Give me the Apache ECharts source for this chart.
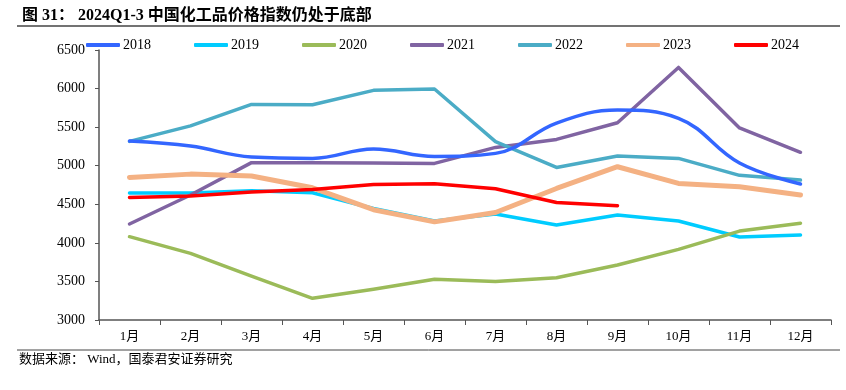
<!DOCTYPE html>
<html><head><meta charset="utf-8">
<script src="https://cdn.jsdelivr.net/npm/echarts@6/dist/echarts.min.js"></script>
<style>html,body{margin:0;padding:0;background:#fff}#c{width:846px;height:390px}</style>
</head><body><div id="c"></div>
<script>
var months = ['1月','2月','3月','4月','5月','6月','7月','8月','9月','10月','11月','12月'];
var years = ['2018','2019','2020','2021','2022','2023','2024'];
var v2018 = [5320, 5255, 5113, 5095, 5217, 5120, 5160, 5553, 5722, 5615, 5035, 4763];
var v2019 = [4646, 4646, 4675, 4650, 4445, 4285, 4374, 4231, 4361, 4283, 4076, 4101];
var v2020 = [4080, 3864, 3570, 3281, 3398, 3527, 3500, 3548, 3713, 3916, 4153, 4253];
var v2021 = [4244, 4620, 5040, 5040, 5035, 5030, 5237, 5341, 5557, 6274, 5490, 5174];
var v2022 = [5315, 5516, 5795, 5790, 5977, 5995, 5312, 4978, 5125, 5095, 4875, 4814];
var v2023 = [4848, 4891, 4866, 4714, 4430, 4272, 4393, 4705, 4987, 4771, 4727, 4620];
var v2024 = [4589, 4606, 4658, 4693, 4757, 4766, 4701, 4524, 4481];
var colors = ['#3366FF', '#00CCFF', '#9BBB59', '#8064A2', '#4BACC6', '#F4B183', '#FF0000'];
var widths = [3.5, 3.5, 3.5, 3.5, 3.5, 5, 3.5];
var data = [v2018, v2019, v2020, v2021, v2022, v2023, v2024];
var serif = '"Liberation Serif", "Times New Roman", "Noto Sans CJK SC", serif';

var series = years.map(function (y, i) {
  return {
    name: y, type: 'line', data: data[i], smooth: i === 0 ? 0.4 : false,
    symbol: 'none', z: i === 0 ? 3 : 2,
    lineStyle: { color: colors[i], width: widths[i], cap: 'round', join: 'round' },
    itemStyle: { color: colors[i] }
  };
});

var chart = echarts.init(document.getElementById('c'));
chart.setOption({
  animation: false,
  backgroundColor: '#fff',
  title: {
    text: '图 31： 2024Q1-3 中国化工品价格指数仍处于底部',
    left: 17, top: 3,
    textStyle: { fontFamily: serif, fontWeight: 'bold', fontSize: 16, color: '#000' }
  },
  graphic: [
    { type: 'line', shape: { x1: 17, y1: 26, x2: 840, y2: 26 }, style: { stroke: '#444', lineWidth: 1.5 } },
    { type: 'line', shape: { x1: 17, y1: 350, x2: 840, y2: 350 }, style: { stroke: '#444', lineWidth: 1 } },
    { type: 'text', left: 19, top: 353, style: { text: '数据来源： Wind，国泰君安证券研究', font: '13px ' + serif, fill: '#000' } }
  ],
  legend: {
    left: 81, top: 33, itemWidth: 34, itemHeight: 4, itemGap: 43, icon: 'roundRect',
    textStyle: { fontFamily: serif, fontSize: 14, color: '#000', padding: [0, 0, 0, -2] },
    data: years
  },
  grid: { left: 99, right: 15, top: 50, bottom: 70, containLabel: false },
  xAxis: {
    type: 'category', data: months, boundaryGap: true,
    axisLine: { lineStyle: { color: '#555', width: 1.5 } },
    axisTick: { show: true, inside: false, length: 5, lineStyle: { color: '#555' } },
    axisLabel: { fontFamily: serif, fontSize: 13, color: '#000', margin: 10 }
  },
  yAxis: {
    type: 'value', min: 3000, max: 6500, interval: 500,
    axisLine: { show: true, lineStyle: { color: '#555', width: 1.5 } },
    axisTick: { show: true, length: 4, lineStyle: { color: '#555' } },
    splitLine: { show: false },
    axisLabel: { fontFamily: serif, fontSize: 14, color: '#000', margin: 14,
      formatter: function (v) { return String(v); } }
  },
  series: series
});
</script></body></html>
